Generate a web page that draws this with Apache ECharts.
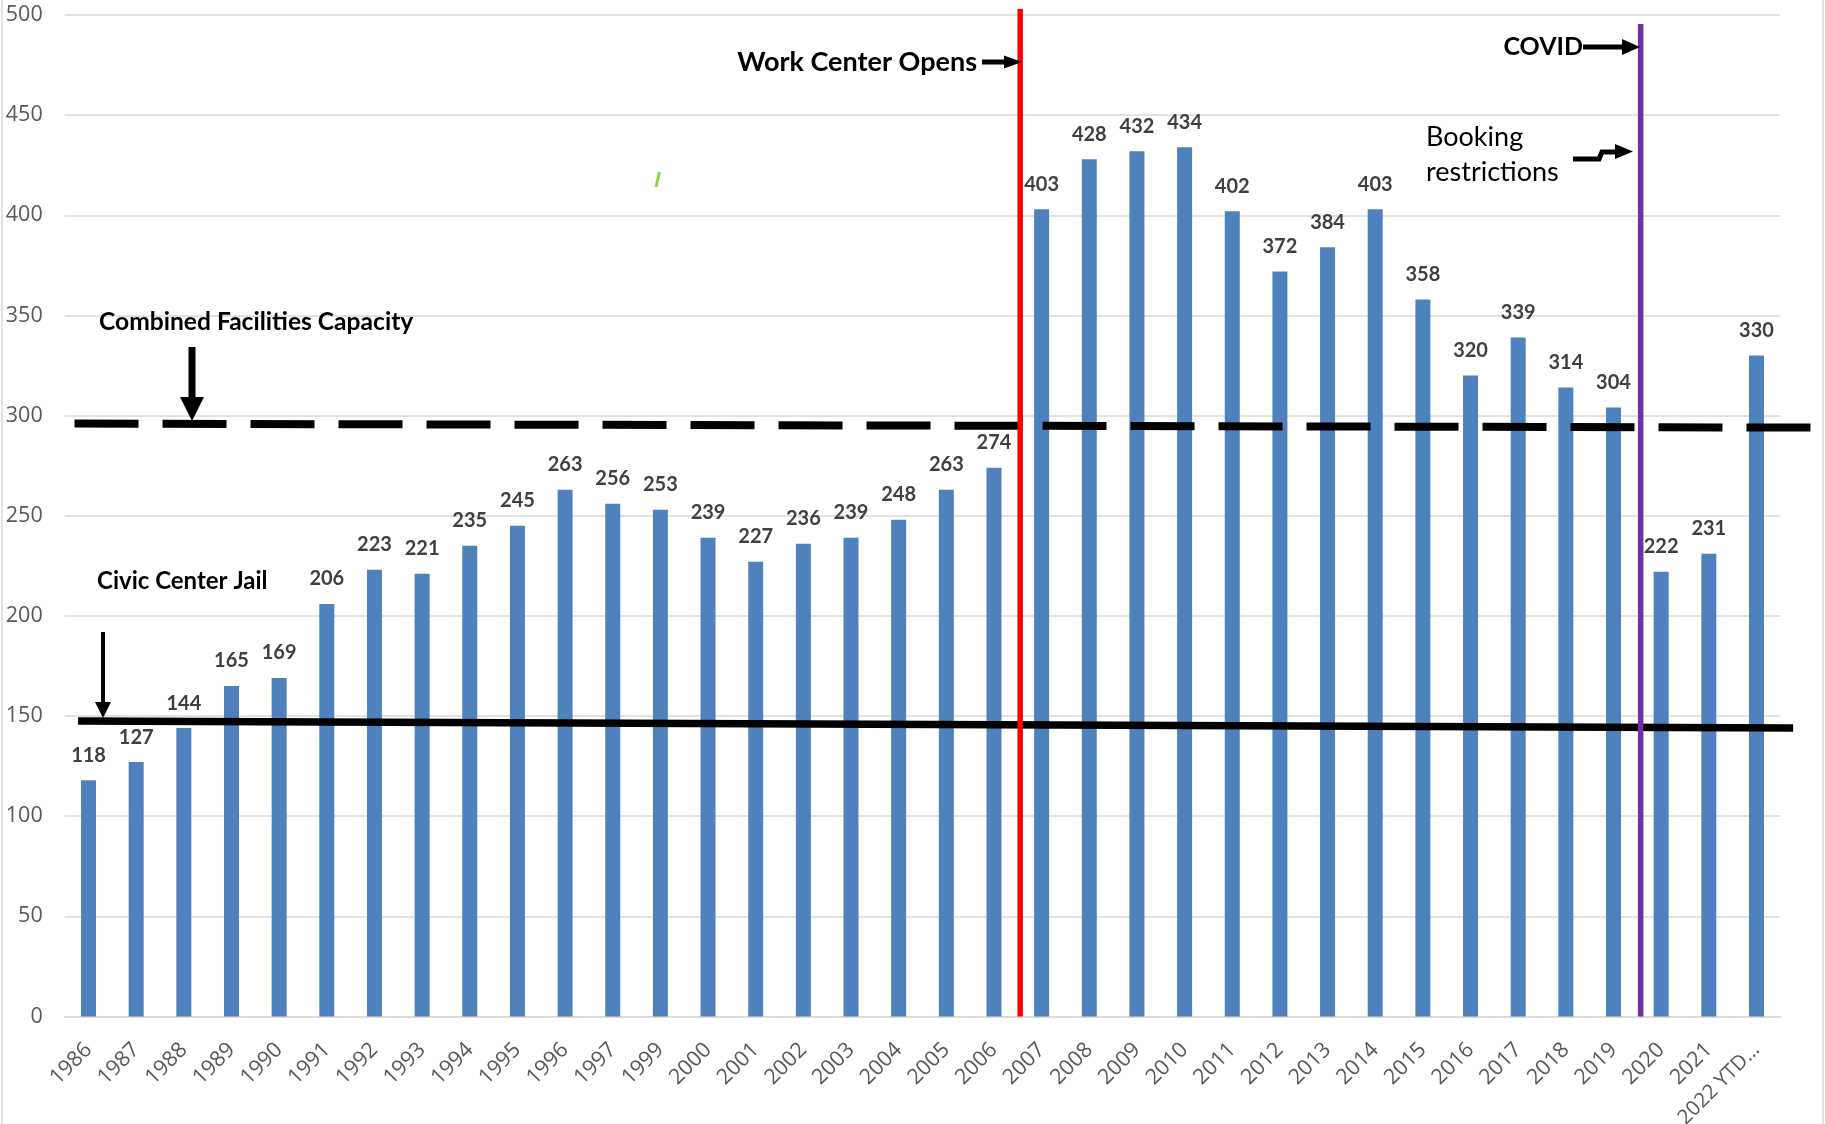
<!DOCTYPE html>
<html>
<head>
<meta charset="utf-8">
<script src="https://cdn.jsdelivr.net/npm/echarts@6/dist/echarts.min.js"></script>
<style>
html,body{margin:0;padding:0;background:#fff;}
#chart{width:1825px;height:1124px;}
</style>
</head>
<body>
<div id="chart"></div>
<script>
// ---- data ----
const categories = ['1986','1987','1988','1989','1990','1991','1992','1993','1994','1995','1996','1997','1999','2000','2001','2002','2003','2004','2005','2006','2007','2008','2009','2010','2011','2012','2013','2014','2015','2016','2017','2018','2019','2020','2021','2022 YTD…'];
const inmates = [118,127,144,165,169,206,223,221,235,245,263,256,253,239,227,236,239,248,263,274,403,428,432,434,402,372,384,403,358,320,339,314,304,222,231,330];
// reference lines, in [category position, value] (position measured in category widths from the left of the plot)
const capacityLine = [[0.206, 296], [36.64, 294]];
const civicJailLine = [[0.28, 147.5], [36.27, 144]];
const workCenterLine = [[20.05, 0], [20.05, 503]];
const covidLine = [[33.07, 0], [33.07, 495.5]];
const yMin = 0, yMax = 500, yStep = 50;

const chart = echarts.init(document.getElementById('chart'), null, {renderer: 'canvas'});

const tickFont = '"Open Sans", "Noto Sans", sans-serif';
const boldFont = 'Lato, "Open Sans", sans-serif';

const W = 1825, gridLeft = 64.7, gridRight = 44.7, gridTop = 15, gridBottom = 107.5;
const catWidth = (W - gridLeft - gridRight) / categories.length;
const overlayMax = (W - gridLeft) / catWidth; // overlay grid extends to the right edge

const categoryItems = categories.map(function (c, i) {
  return i === categories.length - 1 ? {value: c, textStyle: {fontSize: 20.5}} : c;
});

const option = {
  animation: false,
  backgroundColor: '#ffffff',
  grid: [
    {left: gridLeft, right: gridRight, top: gridTop, bottom: gridBottom, containLabel: false, outerBoundsMode: 'none'},
    {left: gridLeft, right: 0, top: gridTop, bottom: gridBottom, containLabel: false, outerBoundsMode: 'none'}
  ],
  xAxis: [
    {
      type: 'category',
      gridIndex: 0,
      data: categoryItems,
      axisLine: {show: true, lineStyle: {color: '#d9d9d9', width: 1.5}},
      axisTick: {show: false},
      axisLabel: {
        interval: 0, rotate: 45, color: '#595959', fontSize: 21.5,
        fontFamily: tickFont, margin: 30
      },
      splitLine: {show: false}
    },
    {
      type: 'value', gridIndex: 1, min: 0, max: overlayMax, show: false,
      splitLine: {show: false}
    }
  ],
  yAxis: [
    {
      type: 'value', gridIndex: 0, min: yMin, max: yMax, interval: yStep,
      axisLine: {show: false},
      axisTick: {show: false},
      axisLabel: {color: '#595959', fontSize: 21.5, fontFamily: tickFont, margin: 22},
      splitLine: {lineStyle: {color: '#d9d9d9', width: 1.5}}
    },
    {
      type: 'value', gridIndex: 1, min: yMin, max: yMax, show: false,
      splitLine: {show: false}
    }
  ],
  series: [
    {
      type: 'bar',
      data: inmates,
      barWidth: 15,
      itemStyle: {color: '#4F81BD'},
      label: {
        show: true, position: 'top', distance: 15,
        color: '#404040', fontSize: 20, fontWeight: 'bold', fontFamily: boldFont
      },
      z: 2
    },
    {
      type: 'line', xAxisIndex: 1, yAxisIndex: 1, data: capacityLine, clip: false,
      symbol: 'none', silent: true, z: 3,
      lineStyle: {color: '#000', width: 8, type: [64, 24], cap: 'butt'}
    },
    {
      type: 'line', xAxisIndex: 1, yAxisIndex: 1, data: civicJailLine, clip: false,
      symbol: 'none', silent: true, z: 3,
      lineStyle: {color: '#000', width: 7.5, cap: 'butt'}
    },
    {
      type: 'line', xAxisIndex: 1, yAxisIndex: 1, data: workCenterLine, clip: false,
      symbol: 'none', silent: true, z: 4,
      lineStyle: {color: '#FF0000', width: 5.5, cap: 'butt'}
    },
    {
      type: 'line', xAxisIndex: 1, yAxisIndex: 1, data: covidLine, clip: false,
      symbol: 'none', silent: true, z: 4,
      lineStyle: {color: '#7030A0', width: 5.5, cap: 'butt'}
    }
  ],
  graphic: [
    // outer frame
    {type: 'rect', shape: {x: 2, y: -5, width: 1821, height: 1135}, style: {fill: 'none', stroke: '#d9d9d9', lineWidth: 1.5}, z: 0, silent: true},
    // Work Center Opens
    {type: 'text', x: 977, y: 62, style: {text: 'Work Center Opens', font: 'bold 27px ' + boldFont, fill: '#000', align: 'right', verticalAlign: 'middle'}, z: 10},
    {type: 'line', shape: {x1: 982, y1: 62, x2: 1006, y2: 62}, style: {stroke: '#000', lineWidth: 5}, z: 10},
    {type: 'polygon', shape: {points: [[1004, 55.5], [1022, 62], [1004, 68.5]]}, style: {fill: '#000'}, z: 10},
    // COVID
    {type: 'text', x: 1583, y: 47, style: {text: 'COVID', font: 'bold 25px ' + boldFont, fill: '#000', align: 'right', verticalAlign: 'middle'}, z: 10},
    {type: 'line', shape: {x1: 1583, y1: 47, x2: 1624, y2: 47}, style: {stroke: '#000', lineWidth: 5}, z: 10},
    {type: 'polygon', shape: {points: [[1622, 39], [1640, 47], [1622, 55]]}, style: {fill: '#000'}, z: 10},
    // Booking restrictions
    {type: 'text', x: 1426, y: 137, style: {text: 'Booking', font: '27px ' + boldFont, fill: '#000', align: 'left', verticalAlign: 'middle'}, z: 10},
    {type: 'text', x: 1426, y: 172, style: {text: 'restrictions', font: '27px ' + boldFont, fill: '#000', align: 'left', verticalAlign: 'middle'}, z: 10},
    {type: 'polyline', shape: {points: [[1573, 159], [1599, 159], [1602, 152], [1617, 152]]}, style: {stroke: '#000', lineWidth: 5, fill: 'none'}, z: 10},
    {type: 'polygon', shape: {points: [[1615, 144], [1633, 151.5], [1615, 159]]}, style: {fill: '#000'}, z: 10},
    // Combined Facilities Capacity
    {type: 'text', x: 99, y: 322, style: {text: 'Combined Facilities Capacity', font: 'bold 24.6px ' + boldFont, fill: '#000', align: 'left', verticalAlign: 'middle'}, z: 10},
    {type: 'rect', shape: {x: 188.5, y: 347, width: 7, height: 52}, style: {fill: '#000'}, z: 10},
    {type: 'polygon', shape: {points: [[180, 397], [204, 397], [192, 421]]}, style: {fill: '#000'}, z: 10},
    // Civic Center Jail
    {type: 'text', x: 97, y: 581, style: {text: 'Civic Center Jail', font: 'bold 24px ' + boldFont, fill: '#000', align: 'left', verticalAlign: 'middle'}, z: 10},
    {type: 'line', shape: {x1: 103, y1: 632, x2: 103, y2: 705}, style: {stroke: '#000', lineWidth: 4}, z: 10},
    {type: 'polygon', shape: {points: [[95, 702], [111, 702], [103, 718]]}, style: {fill: '#000'}, z: 10},
    // stray green mark
    {type: 'line', shape: {x1: 656, y1: 187, x2: 659.5, y2: 172}, style: {stroke: '#92D050', lineWidth: 3}, z: 10}
  ]
};

chart.setOption(option);
</script>
</body>
</html>
